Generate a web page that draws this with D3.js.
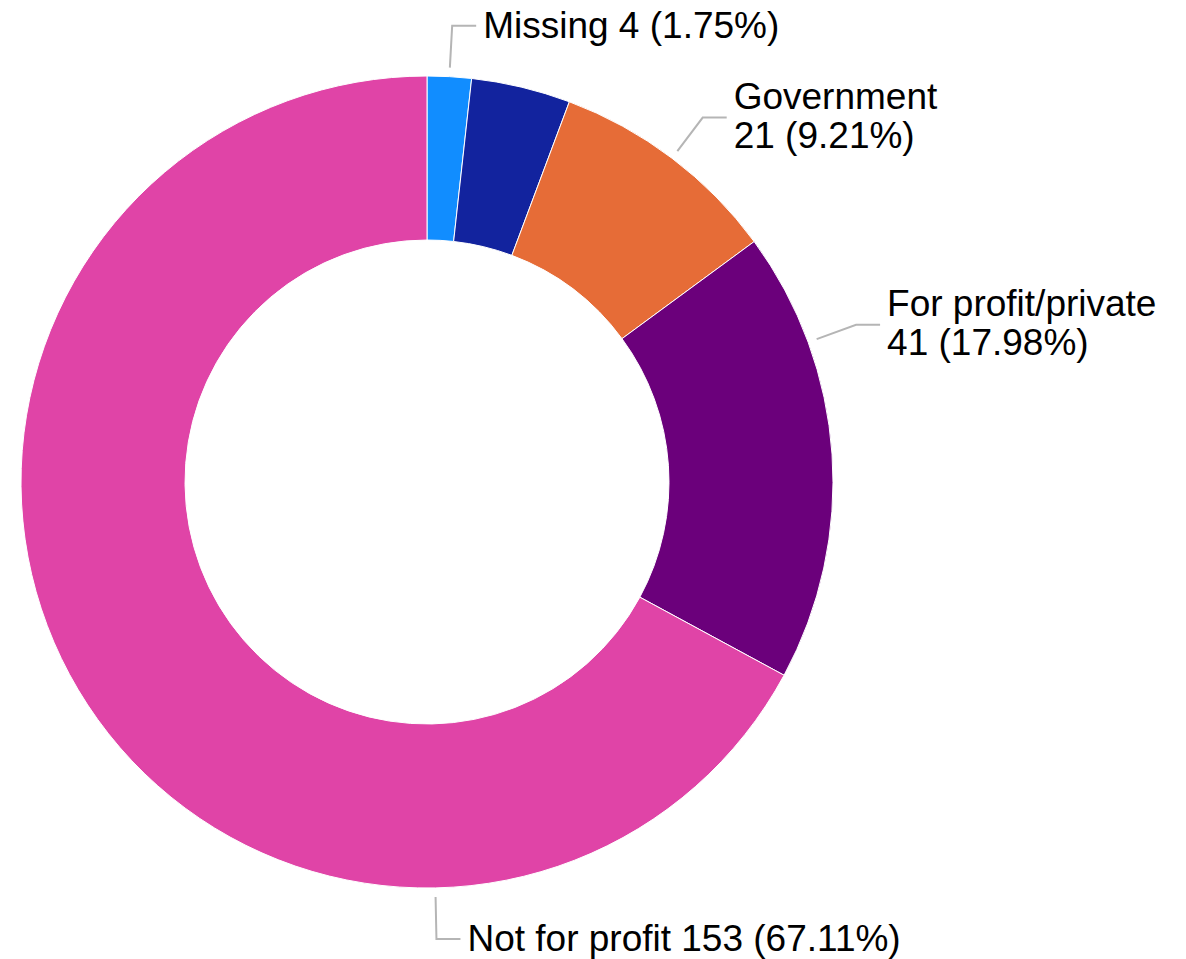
<!DOCTYPE html>
<html lang="en">
  <head>
    <title>Donut</title>
    <script src="https://d3js.org/d3.v7.min.js"></script>
    <style>
      body {
        margin: 0;
        background: #fff;
      }
      .label {
        font-family: "Liberation Sans", Arial, sans-serif;
        font-size: 37px;
        fill: #000;
      }
      .leader {
        fill: none;
        stroke: #b5b5b5;
        stroke-width: 2;
      }
    </style>
  </head>
  <body>
    <svg id="donut" width="1186" height="959"></svg>
    <script>
      // data
      const categories = ["Missing", "Unknown", "Government", "For profit/private", "Not for profit"];
      const counts = [4, 9, 21, 41, 153];
      const percents = ["1.75%", "3.95%", "9.21%", "17.98%", "67.11%"];
      const colors = ["#118DFF", "#12239E", "#E66C37", "#6B007B", "#E044A7"];

      const svg = d3.select("svg#donut");
      const cx = 427;
      const cy = 482;
      const outerR = 406;
      const innerR = 242;

      const chartArea = svg
        .append("g")
        .attr("transform", `translate(${cx},${cy})`);

      const data = categories.map((c, i) => ({
        name: c,
        count: counts[i],
        pct: percents[i],
        color: colors[i],
      }));

      const pie = d3
        .pie()
        .value((d) => d.count)
        .sort(null);

      const arc = d3.arc().innerRadius(innerR).outerRadius(outerR);

      const arcs = pie(data);

      chartArea
        .selectAll("path.slice")
        .data(arcs)
        .enter()
        .append("path")
        .attr("class", "slice")
        .attr("d", arc)
        .attr("fill", (d) => d.data.color)
        .attr("stroke", "#fff")
        .attr("stroke-width", 1);

      // label layout: where along the slice the leader starts, and wrapping
      const labelSetup = {
        "Missing": { frac: 0.5, wrap: false },
        "Government": { frac: 0.5, wrap: true },
        "For profit/private": { frac: 0.25, wrap: true },
        "Not for profit": { frac: 0.25, wrap: false },
      };

      arcs.forEach((a) => {
        const setup = labelSetup[a.data.name];
        if (!setup) return; // the small dark slice has no label in the source

        const angle = a.startAngle + (a.endAngle - a.startAngle) * setup.frac;
        const r1 = outerR + 9;
        const r2 = outerR + 51;
        const p1 = [Math.sin(angle) * r1, -Math.cos(angle) * r1];
        const p2 = [Math.sin(angle) * r2, -Math.cos(angle) * r2];
        const p3 = [p2[0] + 24, p2[1]];
        const tx = p3[0] + 7;

        chartArea
          .append("polyline")
          .attr("class", "leader")
          .attr("points", [p1, p2, p3].map((p) => p.join(",")).join(" "));

        const text = chartArea
          .append("text")
          .attr("class", "label")
          .attr("x", tx);

        if (setup.wrap) {
          text
            .append("tspan")
            .attr("x", tx)
            .attr("y", p3[1] - 9)
            .text(a.data.name);
          text
            .append("tspan")
            .attr("x", tx)
            .attr("y", p3[1] + 30)
            .text(`${a.data.count} (${a.data.pct})`);
        } else {
          text
            .attr("y", p3[1] + 12)
            .text(`${a.data.name} ${a.data.count} (${a.data.pct})`);
        }
      });
    </script>
  </body>
</html>
